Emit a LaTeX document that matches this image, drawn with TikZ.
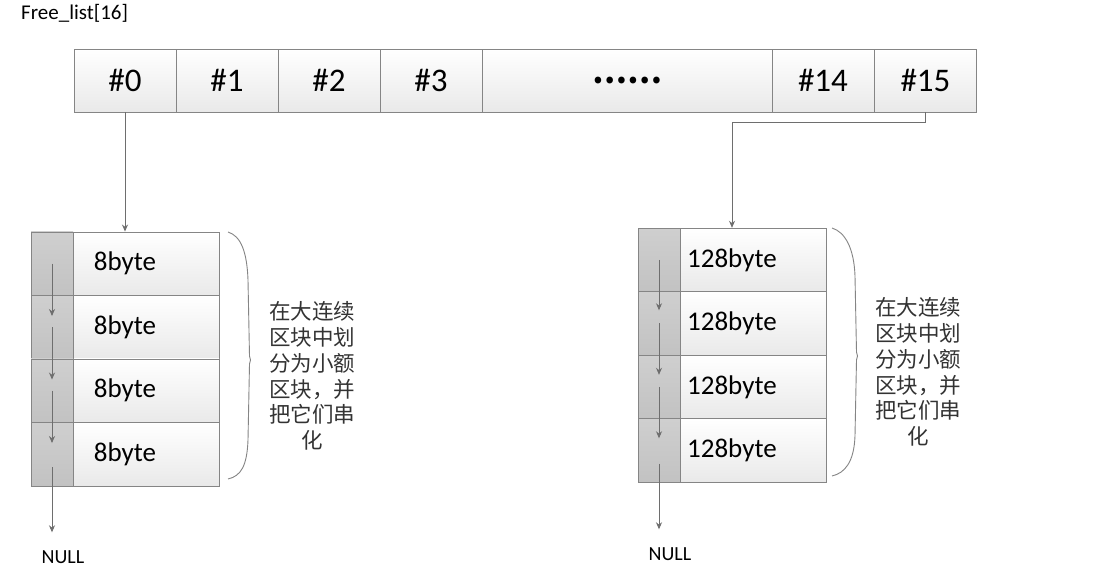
\documentclass[tikz,border=0pt]{standalone}
\usepackage{fontspec}
\setmainfont{Carlito}
\newfontfamily\cjk{Noto Sans CJK SC}
\usetikzlibrary{arrows.meta}
\definecolor{linegray}{HTML}{858585}
\definecolor{arrowgray}{HTML}{6E6E6E}
\definecolor{cellbot}{HTML}{E9E9E9}
\definecolor{graytop}{HTML}{CFCFCF}
\definecolor{graybot}{HTML}{C2C2C2}
\definecolor{txtgray}{HTML}{333333}
\tikzset{
  cell/.style={draw=linegray, line width=0.9pt, top color=white, bottom color=cellbot,
    minimum height=63pt, inner sep=0pt, font=\fontsize{33}{38}\selectfont},
  rowbox/.style={draw=linegray, line width=0.9pt, top color=white, bottom color=cellbot,
    minimum width=188pt, minimum height=63.5pt, inner sep=0pt, font=\fontsize{27}{32}\selectfont},
  graybox/.style={draw=linegray, line width=0.9pt, top color=graytop, bottom color=graybot,
    minimum width=42pt, minimum height=63.5pt, inner sep=0pt},
  conn/.style={draw=arrowgray, line width=0.9pt, -{Stealth[length=7pt,width=6pt]}},
  brace/.style={draw=linegray, line width=0.9pt},
  note/.style={align=center, text=txtgray, font=\cjk\fontsize{21.5}{25.8}\selectfont, inner sep=0pt},
  nulltxt/.style={font=\fontsize{20}{23}\selectfont, inner sep=0pt}
}
\begin{document}
\begin{tikzpicture}[x=1pt,y=-1pt]
\useasboundingbox (0,0) rectangle (1120,577);
\fill[white] (0,0) rectangle (1120,577);

\node[anchor=west, inner sep=0pt, font=\fontsize{21}{24}\selectfont] (title) at (21,13) {Free\_list[16]};

% top array
\node[cell, minimum width=102pt] (c0) at (125,80.5) {\#0};
\node[cell, minimum width=102pt] (c1) at (227,80.5) {\#1};
\node[cell, minimum width=102pt] (c2) at (329,80.5) {\#2};
\node[cell, minimum width=102pt] (c3) at (431,80.5) {\#3};
\node[cell, minimum width=290pt, font=\cjk\bfseries\fontsize{31}{36}\selectfont] (cdots) at (627,80.5) {……};
\node[cell, minimum width=102pt] (c14) at (823,80.5) {\#14};
\node[cell, minimum width=102pt] (c15) at (925.5,80.5) {\#15};

% left block
\node[rowbox] (l1) at (125,263.75) {8byte};
\node[rowbox] (l2) at (125,327.25) {8byte};
\node[rowbox] (l3) at (125,390.75) {8byte};
\node[rowbox] (l4) at (125,454.25) {8byte};
\node[graybox] (lg1) at (52,263.75) {};
\node[graybox] (lg2) at (52,327.25) {};
\node[graybox] (lg3) at (52,390.75) {};
\node[graybox] (lg4) at (52,454.25) {};
\node[nulltxt] (lnull) at (63,557) {NULL};

% right block
\node[rowbox] (r1) at (732,260) {128byte};
\node[rowbox] (r2) at (732,323.5) {128byte};
\node[rowbox] (r3) at (732,387) {128byte};
\node[rowbox] (r4) at (732,450.5) {128byte};
\node[graybox] (rg1) at (659,260) {};
\node[graybox] (rg2) at (659,323.5) {};
\node[graybox] (rg3) at (659,387) {};
\node[graybox] (rg4) at (659,450.5) {};
\node[nulltxt] (rnull) at (670,554) {NULL};

% connectors top
\draw[conn] (c0.south -| l1.north) -- (l1.north);
\draw[conn] (c15.south) -- ++(0,10) -| (r1.north);

% chains left
\draw[conn] (lg1.center) -- ([yshift=-21pt]lg2.north);
\draw[conn] (lg2.center) -- ([yshift=-21pt]lg3.north);
\draw[conn] (lg3.center) -- ([yshift=-21pt]lg4.north);
\draw[conn] ([yshift=-13pt]lg4.center) -- ([yshift=18pt]lnull.north -| lg4.center);

% chains right
\draw[conn] (rg1.center) -- ([yshift=-19pt]rg2.north);
\draw[conn] (rg2.center) -- ([yshift=-20pt]rg3.north);
\draw[conn] (rg3.center) -- ([yshift=-20pt]rg4.north);
\draw[conn] ([yshift=-13pt]rg4.center) -- ([yshift=18pt]rnull.north -| rg4.center);

% braces
\draw[brace] (228,232) .. controls (241,236) and (247,252) .. (248,280)
  -- (249.5,356) -- (250.5,360) -- (249.5,364) -- (248,440)
  .. controls (247,466) and (241,476) .. (228,479);
\draw[brace] (832,228) .. controls (845,232) and (854,248) .. (855,276)
  -- (856.5,352) -- (857.5,356) -- (856.5,360) -- (855,436)
  .. controls (854,462) and (845,473) .. (832,476);

% notes
\node[note] (lnote) at (312,376) {在大连续\\区块中划\\分为小额\\区块，并\\把它们串\\化};
\node[note] (rnote) at (918,372) {在大连续\\区块中划\\分为小额\\区块，并\\把它们串\\化};
\end{tikzpicture}
\end{document}
